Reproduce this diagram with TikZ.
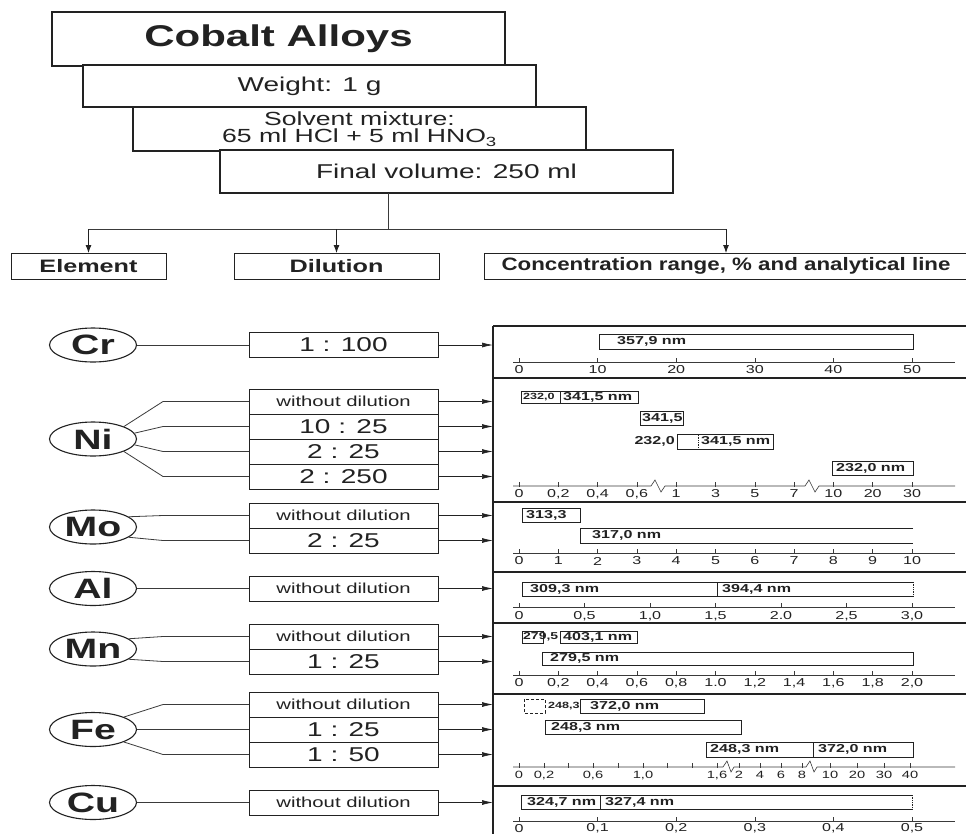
\documentclass[tikz,border=0pt]{standalone}
\usepackage{fontspec}
\setmainfont{Liberation Sans}[FakeStretch=1.4]
\newfontfamily\narrowfont{Liberation Sans}[FakeStretch=1.24]
\usepackage{tikz}
\usetikzlibrary{arrows.meta,positioning,shapes.geometric}
\definecolor{AlloyInk}{HTML}{222222}
\definecolor{AlloyLine}{HTML}{3A3A3A}
\tikzset{
  >=Latex,
  stepbox/.style={draw=AlloyInk,line width=1.1pt,fill=white,minimum width=453pt,
    anchor=north west,inner sep=0pt,outer sep=0pt,align=center,text=AlloyInk},
  headbox/.style={draw=AlloyInk,line width=1pt,minimum height=26pt,inner sep=0pt,
    outer sep=0pt,anchor=north west,text=AlloyInk,font=\fontsize{18}{20}\selectfont\bfseries},
  elembox/.style={ellipse,draw=AlloyInk,line width=1.1pt,minimum width=87pt,
    minimum height=34pt,inner sep=0pt,text=AlloyInk,font=\fontsize{28}{30}\selectfont\bfseries},
  dilbox/.style={draw=AlloyInk,line width=1pt,minimum width=189pt,minimum height=25pt,
    inner sep=0pt,outer sep=0pt,text=AlloyInk,font=\fontsize{20}{22}\selectfont},
  wdbox/.style={dilbox,font=\fontsize{14.5}{16}\selectfont},
  feed/.style={draw=AlloyLine,line width=0.8pt},
  flow/.style={-{Latex[length=8pt,width=6pt]},line width=0.9pt,draw=AlloyInk},
  toscale/.style={-{Latex[length=11pt,width=5pt]},line width=0.7pt,draw=AlloyInk},
  frame/.style={draw=AlloyInk,line width=1.1pt},
  axisline/.style={draw=AlloyLine,line width=0.6pt},
  ticklbl/.style={inner sep=0pt,text=AlloyInk,font=\fontsize{11.5}{12}\selectfont},
  bar/.style={draw=AlloyInk,line width=0.7pt},
  barlbl/.style={anchor=west,inner sep=0pt,text=AlloyInk,font=\fontsize{11.5}{12}\selectfont\bfseries},
  smalllbl/.style={barlbl,font=\fontsize{9}{10}\selectfont\bfseries}
}

\begin{document}
\begin{tikzpicture}[x=1pt,y=-1pt]
  \useasboundingbox[fill=white] (0,0) rectangle (966,833);

  % sample preparation
  \node[stepbox,minimum height=54pt,font=\fontsize{30}{32}\selectfont\bfseries] (alloys) at (52,12) {Cobalt Alloys};
  \node[stepbox,minimum height=42pt,font=\fontsize{20}{22}\selectfont] (weight) at (83,65) {Weight: 1 g};
  \node[stepbox,minimum height=44pt,font=\fontsize{19}{17.5}\selectfont] (solvent) at (133,107) {Solvent mixture:\\65 ml HCl + 5 ml HNO\textsubscript{3}};
  \node[stepbox,minimum height=43pt,font=\fontsize{20}{22}\selectfont] (finalvol) at (220,150) {Final volume: 250 ml};

  \node[headbox,minimum width=155pt] (elemhead) at (11,253) {Element};
  \node[headbox,minimum width=205pt] (dilhead) at (234,253) {Dilution};
  \node[headbox,minimum width=484pt,font=\narrowfont\bfseries\fontsize{18}{20}\selectfont] (conchead) at (484,253) {Concentration range, \% and analytical line};

  \coordinate (split) at (388,229);
  \draw[feed] (finalvol.south -| split) -- (split);
  \draw[feed] (elemhead.north |- split) -- (conchead.north |- split);
  \foreach \h in {elemhead,dilhead,conchead}
    \draw[flow] (\h.north |- split) -- (\h.north);

  % elements and dilutions
  \node[elembox] (cr) at (93,345) {Cr};
  \node[dilbox] (crdil) at (343.5,345) {1 : 100};

  \node[elembox] (ni) at (93,439) {Ni};
  \node[wdbox] (ni1) at (343.5,401.5) {without dilution};
  \node[dilbox,below=0pt of ni1] (ni2) {10 : 25};
  \node[dilbox,below=0pt of ni2] (ni3) {2 : 25};
  \node[dilbox,below=0pt of ni3] (ni4) {2 : 250};

  \node[elembox] (mo) at (93,527) {Mo};
  \node[wdbox] (mo1) at (343.5,515.5) {without dilution};
  \node[dilbox,below=0pt of mo1] (mo2) {2 : 25};

  \node[elembox] (al) at (93,588.5) {Al};
  \node[wdbox] (al1) at (343.5,588.5) {without dilution};

  \node[elembox] (mn) at (93,649) {Mn};
  \node[wdbox] (mn1) at (343.5,636.5) {without dilution};
  \node[dilbox,below=0pt of mn1] (mn2) {1 : 25};

  \node[elembox] (fe) at (93,729.5) {Fe};
  \node[wdbox] (fe1) at (343.5,704.5) {without dilution};
  \node[dilbox,below=0pt of fe1] (fe2) {1 : 25};
  \node[dilbox,below=0pt of fe2] (fe3) {1 : 50};

  \node[elembox] (cu) at (93,802.5) {Cu};
  \node[wdbox] (cu1) at (343.5,802.5) {without dilution};

  \draw[feed] (cr) -- (crdil);
  \draw[feed] (al) -- (al1);
  \draw[feed] (cu) -- (cu1);
  \draw[feed] (fe) -- (fe2);
  \foreach \e/\b/\a in {ni/ni1/22,ni/ni2/8,ni/ni3/-8,ni/ni4/-22,mo/mo1/16,mo/mo2/-16,
                        mn/mn1/16,mn/mn2/-16,fe/fe1/22,fe/fe3/-22}
    \draw[feed] (\e.\a) -- ([xshift=-86pt]\b.west) -- (\b.west);

  % ranges
  \coordinate (pl) at (493,326);
  \draw[frame] (pl) -- (493,840);
  \foreach \y in {326,378,502,572,623,694,786}
    \draw[frame] (493,\y) -- (970,\y);
  \foreach \b in {crdil,ni1,ni2,ni3,ni4,mo1,mo2,al1,mn1,mn2,fe1,fe2,fe3,cu1}
    \draw[toscale] (\b.east) -- (\b.east -| pl);

  % Cr
  \draw[axisline] (513,362) -- (955,362);
  \foreach \x/\l [count=\i] in {519/0,597.6/10,676.2/20,754.8/30,833.4/40,912/50}{
    \draw[axisline] (\x,358) -- (\x,363);
    \node[ticklbl] (crt\i) at (\x,370) {\l};
  }
  \draw[bar] (599,334) rectangle (913,349);
  \node[barlbl] (crb) at (617,341.5) {357,9 nm};

  % Ni
  \draw[axisline] (513,486) -- (651,486) -- (655,480) -- (661,492) -- (665,486) -- (805,486)
    -- (809,480) -- (815,492) -- (819,486) -- (955,486);
  \foreach \x/\l [count=\i] in {519/0,558.3/{0,2},597.6/{0,4},636.9/{0,6},676.2/1,715.5/3,
                                754.8/5,794.1/7,833.4/10,872.7/20,912/30}{
    \draw[axisline] (\x,482) -- (\x,487);
    \node[ticklbl] (nit\i) at (\x,494) {\l};
  }
  \draw[bar] (521,391) rectangle (560,403) (560,391) rectangle (638,403);
  \node[smalllbl] (nib1) at (523,397) {232,0};
  \node[barlbl] (nib2) at (563,397) {341,5 nm};
  \draw[bar] (640,411) rectangle (683,425);
  \node[barlbl] (nib3) at (642,418) {341,5};
  \draw[bar] (677,434) rectangle (773,449);
  \draw[bar,densely dotted] (698,435) -- (698,448);
  \node[barlbl,anchor=east] (nib4) at (675,441.5) {232,0};
  \node[barlbl] (nib5) at (701,441.5) {341,5 nm};
  \draw[bar] (832,461) rectangle (913,475);
  \node[barlbl] (nib6) at (836,468) {232,0 nm};

  % Mo
  \draw[axisline] (513,553) -- (955,553);
  \foreach \x/\l [count=\i] in {519/0,558.3/1,597.6/2,636.9/3,676.2/4,715.5/5,754.8/6,
                                794.1/7,833.4/8,872.7/9,912/10}{
    \draw[axisline] (\x,549) -- (\x,554);
    \node[ticklbl] (mot\i) at (\x,561) {\l};
  }
  \draw[bar] (522,508) rectangle (580,522);
  \node[barlbl] (mob1) at (526,515) {313,3};
  \draw[bar] (913,528) -- (580,528) -- (580,543) -- (913,543);
  \node[barlbl] (mob2) at (592,535.5) {317,0 nm};

  % Al
  \draw[axisline] (513,607) -- (955,607);
  \foreach \x/\l [count=\i] in {519/0,584.5/{0,5},650/{1,0},715.5/{1,5},781/2.0,846.5/{2,5},912/{3,0}}{
    \draw[axisline] (\x,603) -- (\x,608);
    \node[ticklbl] (alt\i) at (\x,616) {\l};
  }
  \draw[bar] (913,582) -- (522,582) -- (522,596) -- (913,596) (717,582) -- (717,596);
  \draw[bar,densely dotted] (913,582) -- (913,596);
  \node[barlbl] (alb1) at (530,589) {309,3 nm};
  \node[barlbl] (alb2) at (722,589) {394,4 nm};

  % Mn
  \draw[axisline] (513,675) -- (955,675);
  \foreach \x/\l [count=\i] in {519/0,558.3/{0,2},597.6/{0,4},636.9/{0,6},676.2/{0,8},715.5/1.0,
                                754.8/{1,2},794.1/{1,4},833.4/{1,6},872.7/{1,8},912/{2,0}}{
    \draw[axisline] (\x,671) -- (\x,676);
    \node[ticklbl] (mnt\i) at (\x,683) {\l};
  }
  \draw[bar] (522,631) rectangle (543,643) (560,631) rectangle (637,643);
  \node[barlbl,font=\fontsize{10}{11}\selectfont\bfseries] (mnb1) at (523,637) {279,5};
  \node[barlbl] (mnb2) at (563,637) {403,1 nm};
  \draw[bar] (542,652) rectangle (913,665);
  \node[barlbl] (mnb3) at (550,658.5) {279,5 nm};

  % Fe
  \draw[axisline] (513,767) -- (723,767) -- (727,761) -- (731,772) -- (734,767) -- (806,767)
    -- (810,761) -- (814,772) -- (817,767) -- (955,767);
  \foreach \x in {519,544,568,593,618,643,667,692,717,739,760,781,802,830,857,884,910}
    \draw[axisline] (\x,763) -- (\x,768);
  \foreach \x/\l [count=\i] in {519/0,544/{0,2},593/{0,6},643/{1,0},717/{1,6},739/2,760/4,
                                781/6,802/8,830/10,857/20,884/30,910/40}
    \node[ticklbl,font=\fontsize{10.5}{11}\selectfont] (fet\i) at (\x,775) {\l};
  \draw[bar,densely dashed] (524,699) rectangle (545,713);
  \node[smalllbl] (feb1) at (548,706) {248,3};
  \draw[bar] (580,699) rectangle (704,713);
  \node[barlbl] (feb2) at (590,706) {372,0 nm};
  \draw[bar] (545,720) rectangle (741,734);
  \node[barlbl] (feb3) at (551,727) {248,3 nm};
  \draw[bar] (706,742) rectangle (813,757) (813,742) rectangle (913,757);
  \node[barlbl] (feb4) at (710,749.5) {248,3 nm};
  \node[barlbl] (feb5) at (818,749.5) {372,0 nm};

  % Cu
  \draw[axisline] (513,821) -- (955,821);
  \foreach \x/\l [count=\i] in {519/0,597.6/{0,1},676.2/{0,2},754.8/{0,3},833.4/{0,4},912/{0,5}}{
    \draw[axisline] (\x,817) -- (\x,822);
    \node[ticklbl] (cut\i) at (\x,828.5) {\l};
  }
  \draw[bar] (912,795) -- (521,795) -- (521,809) -- (912,809) (600,795) -- (600,809);
  \draw[bar,densely dotted] (912,795) -- (912,809);
  \node[barlbl] (cub1) at (527,802) {324,7 nm};
  \node[barlbl] (cub2) at (605,802) {327,4 nm};
\end{tikzpicture}
\end{document}
